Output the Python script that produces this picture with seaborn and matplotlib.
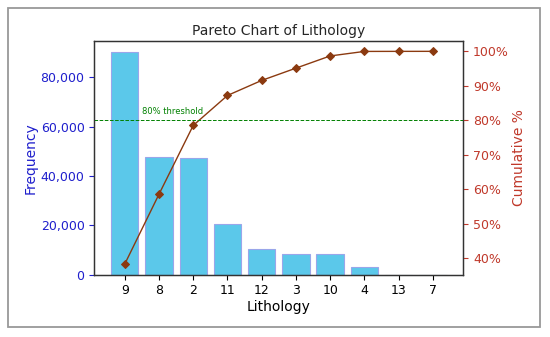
import matplotlib
matplotlib.use("Agg")
import matplotlib.pyplot as plt
import seaborn as sns
import numpy as np
import pandas as pd
from matplotlib.ticker import FuncFormatter, PercentFormatter
from matplotlib.patches import Rectangle

categories = ["9", "8", "2", "11", "12", "3", "10", "4", "13", "7"]
frequency = [90300, 47800, 47100, 20500, 10300, 8400, 8350, 3100, 40, 20]

freq = np.array(frequency, dtype=float)
cumulative = np.cumsum(freq) / freq.sum() * 100
df = pd.DataFrame({"Lithology": categories, "Frequency": frequency, "Cumulative": cumulative})

sns.set_style("ticks")
plt.rcParams['font.family'] = ['DejaVu Sans']

fig, ax = plt.subplots(figsize=(5.5, 3.37), dpi=100)
fig.subplots_adjust(left=94.3/550, right=463.3/550, top=1-40.7/337, bottom=1-274.7/337)

sns.barplot(data=df, x="Lithology", y="Frequency", order=categories, color="#5bc8ea",
            saturation=1, edgecolor="#9aa6ea", linewidth=0.8, ax=ax)
ax.set_xlabel("Lithology", fontsize=10, color="black", labelpad=2)
ax.set_ylabel("Frequency", fontsize=10, color="#1f1fcc", labelpad=2)
ax.tick_params(axis="y", colors="#1f1fcc", labelsize=9.0)
ax.tick_params(axis="x", labelsize=9.0, colors="black")
ax.yaxis.set_major_formatter(FuncFormatter(lambda v, p: f"{int(v):,}"))
ax.set_title("Pareto Chart of Lithology", fontsize=10, pad=4)

ax2 = ax.twinx()
sns.pointplot(data=df, x="Lithology", y="Cumulative", order=categories, color="#8b3a10",
              markers="D", markersize=3.8, linewidth=1.0, ax=ax2)
ax2.set_ylabel("Cumulative %", fontsize=10, color="#c0392b", labelpad=2)
ax2.tick_params(axis="y", colors="#c0392b", labelsize=9.0)
ax2.yaxis.set_major_formatter(PercentFormatter(decimals=0))
ax2.set_xlabel("Lithology", fontsize=10)
ax2.axhline(80, color="green", linestyle="--", linewidth=0.7)
ax2.text(0.5, 81.2, "80% threshold", color="green", fontsize=6, ha="left", va="bottom")
ax2.set_xlim(-0.89, len(categories) - 1 + 0.89)

for a in (ax, ax2):
    for s in a.spines.values():
        s.set_color("#333333")
        s.set_linewidth(0.9)

fig.patches.append(Rectangle((8/550, 1-327/337), (540-8)/550, (327-8)/337,
                             transform=fig.transFigure, fill=False,
                             edgecolor="#999999", linewidth=1.3))

fig.savefig("out.png", dpi=100)
